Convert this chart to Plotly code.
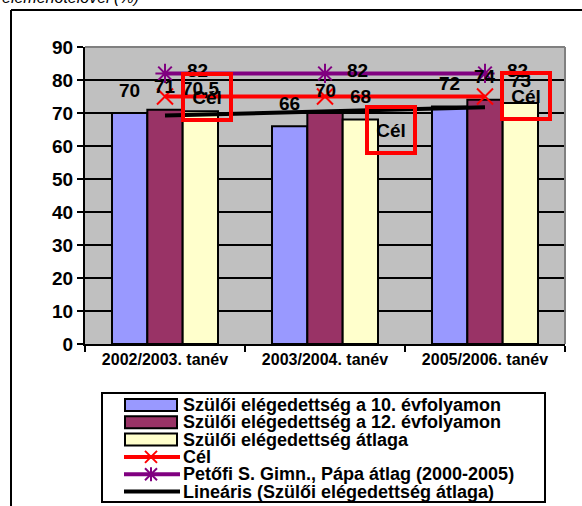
import numpy as np
import plotly.graph_objects as go

categories = ["2002/2003. tanév", "2003/2004. tanév", "2005/2006. tanév"]
grade10 = [70, 66, 72]
grade12 = [71, 70, 74]
average = [70.5, 68, 73]
target = [75, 75, 75]
school_avg = [82, 82, 82]
y_ticks = [0, 10, 20, 30, 40, 50, 60, 70, 80, 90]

bar_names = ["Szülői elégedettség a 10. évfolyamon",
             "Szülői elégedettség a 12. évfolyamon",
             "Szülői elégedettség átlaga"]
target_name = "Cél"
school_name = "Petőfi S. Gimn., Pápa átlag (2000-2005)"
trend_name = "Lineáris (Szülői elégedettség átlaga)"
title_text = "elemenötelővel (%)"

bar_colors = ["#9999FF", "#993366", "#FFFFCC"]
RED, PURPLE = "#FF0000", "#800080"
FONT = "Arial, Liberation Sans, sans-serif"

W, H = 582, 506
L, R, T, B = 85, 565, 47, 344


def px(x):
    return (x - L) / (R - L)


def py(y):
    return (B - y) / (B - T)


idx = np.arange(len(categories))
slope, intercept = np.polyfit(idx, average, 1)
trend = list(slope * idx + intercept)

fig = go.Figure()
for vals, name, col in zip([grade10, grade12, average], bar_names, bar_colors):
    fig.add_trace(go.Bar(x=categories, y=vals, name=name, showlegend=False,
                         marker=dict(color=col, line=dict(color="black", width=2))))

fig.add_trace(go.Scatter(x=categories, y=target, name=target_name, mode="lines+markers",
                         showlegend=False, line=dict(color=RED, width=4),
                         marker=dict(symbol="x-thin", size=16,
                                     line=dict(color=RED, width=2))))
fig.add_trace(go.Scatter(x=categories, y=school_avg, name=school_name, mode="lines+markers",
                         showlegend=False, line=dict(color=PURPLE, width=4),
                         marker=dict(symbol="asterisk", size=16,
                                     line=dict(color=PURPLE, width=2))))
fig.add_trace(go.Scatter(x=categories, y=trend, name=trend_name, mode="lines",
                         showlegend=False, line=dict(color="black", width=4)))

LBL = dict(family=FONT, size=19, color="black", weight="bold")
ann = []
bw = (1 - 0.3375) / 3


def fmt(v):
    return (f"{v:g}").replace(".", ",")


for k, vals in enumerate([grade10, grade12, average]):
    for i, v in enumerate(vals):
        ann.append(dict(x=i + (k - 1) * bw, y=v, xref="x", yref="y", text=fmt(v),
                        showarrow=False, yshift=23, font=LBL))
for i, v in enumerate(school_avg):
    ann.append(dict(x=i, y=v, xref="x", yref="y", text=fmt(v), showarrow=False,
                    xshift=32, yshift=3, font=LBL))
cel_shift = [(42, 0), (66, -33), (41, 1)]
for i, v in enumerate(target):
    ann.append(dict(x=i, y=v, xref="x", yref="y", text=target_name, showarrow=False,
                    xshift=cel_shift[i][0], yshift=cel_shift[i][1],
                    width=44, height=42, borderpad=0,
                    bordercolor=RED, borderwidth=4, font=LBL))
ann.append(dict(x=px(0), y=py(-2), xref="paper", yref="paper", xanchor="left",
                yanchor="middle", text="<i>" + title_text + "</i>", showarrow=False,
                font=dict(family=FONT, size=16, color="black")))

shapes = [
    # outer chart frame (left and top edges visible in the picture)
    dict(type="line", xref="paper", yref="paper", x0=px(11), y0=py(10), x1=px(W + 5),
         y1=py(10), line=dict(color="black", width=2), layer="below"),
    dict(type="line", xref="paper", yref="paper", x0=px(11), y0=py(10), x1=px(11),
         y1=py(H + 5), line=dict(color="black", width=2), layer="below"),
    dict(type="line", xref="paper", yref="paper", x0=0, y0=1, x1=1, y1=1,
         line=dict(color="#808080", width=2)),
    dict(type="line", xref="paper", yref="paper", x0=1, y0=0, x1=1, y1=1,
         line=dict(color="#808080", width=2)),
    # legend box
    dict(type="rect", xref="paper", yref="paper", x0=px(102), y0=py(393), x1=px(545),
         y1=py(502), line=dict(color="black", width=2), fillcolor="white"),
]

# legend entries
legend_names = bar_names + [target_name, school_name, trend_name]
row_y = [405 + 17.3 * r for r in range(len(legend_names))]
SX0, SX1, SXC = 125, 177, 151
for r, name in enumerate(legend_names):
    yc = row_y[r]
    ann.append(dict(x=px(181), y=py(yc), xref="paper", yref="paper", xanchor="left",
                    yanchor="middle", text=name, showarrow=False,
                    font=dict(family=FONT, size=18, color="black", weight="bold")))
    if r < 3:
        shapes.append(dict(type="rect", xref="paper", yref="paper", x0=px(SX0),
                           y0=py(yc - 6), x1=px(SX1), y1=py(yc + 6),
                           fillcolor=bar_colors[r], line=dict(color="black", width=2)))
    else:
        col = [RED, PURPLE, "black"][r - 3]
        shapes.append(dict(type="line", xref="paper", yref="paper", x0=px(SX0 - 1),
                           y0=py(yc), x1=px(SX1 + 3), y1=py(yc),
                           line=dict(color=col, width=4)))
        if r == 3:
            segs = [(-6, -6, 6, 6), (-6, 6, 6, -6)]
        elif r == 4:
            segs = [(-6, -6, 6, 6), (-6, 6, 6, -6), (0, -7, 0, 7), (-7, 0, 7, 0)]
        else:
            segs = []
        for (a, b, c, d) in segs:
            shapes.append(dict(type="line", xref="paper", yref="paper",
                               x0=px(SXC + a), y0=py(yc + b), x1=px(SXC + c),
                               y1=py(yc + d), line=dict(color=col, width=2)))

fig.update_layout(
    width=W, height=H,
    margin=dict(l=L, r=W - R, t=T, b=H - B),
    paper_bgcolor="white", plot_bgcolor="#C0C0C0",
    barmode="group", bargap=0.3375, bargroupgap=0,
    font=dict(family=FONT, color="black"),
    annotations=ann, shapes=shapes,
    showlegend=False,
)
fig.update_xaxes(type="category", tickson="boundaries", ticks="outside", ticklen=6,
                 tickwidth=2, tickcolor="black", showline=True, linecolor="black",
                 linewidth=2, showgrid=False, automargin=False,
                 tickfont=dict(family=FONT, size=16, color="black", weight="bold"))
fig.update_yaxes(range=[0, 90], tickvals=y_ticks, ticks="outside", ticklen=6, tickwidth=2,
                 tickcolor="black", showline=True, linecolor="black", linewidth=2,
                 showgrid=True, gridcolor="black", gridwidth=2, zeroline=False,
                 automargin=False,
                 tickfont=dict(family=FONT, size=19, color="black", weight="bold"))

fig.write_html("out.html", config={"displayModeBar": False},
               post_script="document.body.style.margin='0';document.body.style.overflow='hidden';")
